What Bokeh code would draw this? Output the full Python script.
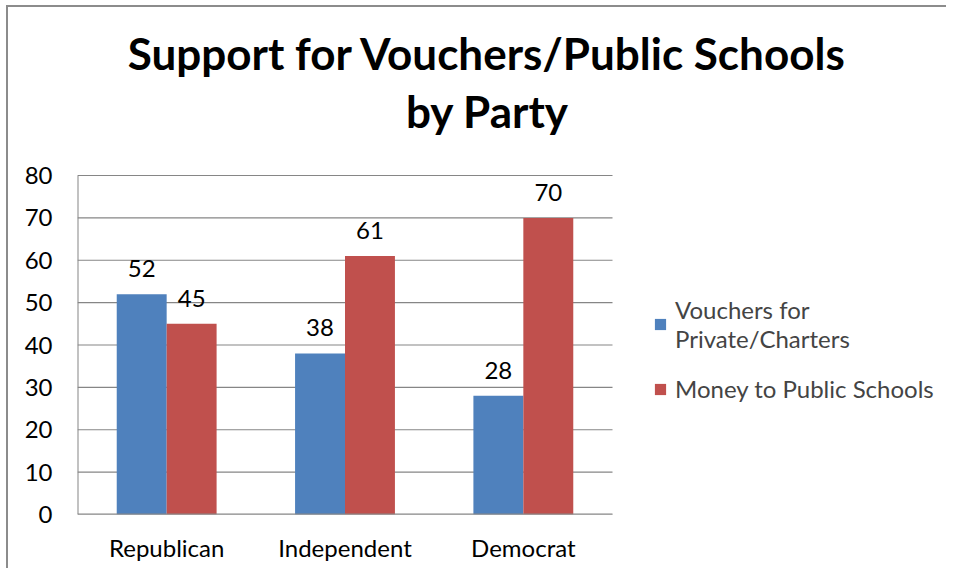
from bokeh.plotting import figure
from bokeh.models import (ColumnDataSource, Range1d, Legend, LegendItem, Label,
                          InlineStyleSheet, FixedTicker)
from bokeh.core.properties import value
from bokeh.embed import file_html
from bokeh.resources import INLINE

categories = ["Republican", "Independent", "Democrat"]
vouchers = [52, 38, 28]
public_money = [45, 61, 70]
series_names = ["Vouchers for\nPrivate/Charters", "Money to Public Schools"]
title_lines = ["Support for Vouchers/Public Schools", "by Party"]
y_ticks = [0, 10, 20, 30, 40, 50, 60, 70, 80]

BLUE = "#4F81BD"
RED = "#C0504D"
GRID = "#868686"
FONT = "Lato"

# layout geometry (pixels)
W, H = 940, 563
ML, MB = 69, 56
frame_w, frame_h = W - ML, H - MB
plot_w_px, plot_h_px = 535, 339   # width/height of the category plotting area

n = len(categories)
y_max = y_ticks[-1]
x_end = n * frame_w / plot_w_px
y_end = y_max * frame_h / plot_h_px

xc = [i + 0.5 for i in range(n)]
bw = 0.28
source = ColumnDataSource(data=dict(
    xv=[x - bw / 2 for x in xc], xm=[x + bw / 2 for x in xc],
    v=vouchers, m=public_money,
    vt=[str(x) for x in vouchers], mt=[str(x) for x in public_money],
))

p = figure(width=W, height=H, x_range=Range1d(0, x_end), y_range=Range1d(0, y_end),
           output_backend="svg", toolbar_location=None,
           min_border_left=ML, min_border_top=0, min_border_right=0, min_border_bottom=MB)
p.stylesheets = [InlineStyleSheet(css=":host { margin-left: 6px; margin-top: 5px; border-left: 2px solid #8c8c8c; border-top: 2px solid #8c8c8c; }")]
p.outline_line_color = None
p.xgrid.grid_line_color = None
p.ygrid.grid_line_color = None

# gridlines over the category area
p.segment(x0=[0] * len(y_ticks), y0=y_ticks, x1=[n] * len(y_ticks), y1=y_ticks,
          line_color=GRID, line_width=1.2)

r1 = p.vbar(x="xv", top="v", width=bw, source=source, fill_color=BLUE, line_color=None)
r2 = p.vbar(x="xm", top="m", width=bw, source=source, fill_color=RED, line_color=None)

# axis lines
p.segment(x0=[0, 0], y0=[0, 0], x1=[0, n], y1=[y_max, 0], line_color=GRID, line_width=2)

p.text(x="xv", y="v", text="vt", source=source, text_align="center", text_baseline="bottom",
       y_offset=-17, text_font=value(FONT), text_font_size="24px", text_color="black")
p.text(x="xm", y="m", text="mt", source=source, text_align="center", text_baseline="bottom",
       y_offset=-17, text_font=value(FONT), text_font_size="24px", text_color="black")

p.yaxis.ticker = FixedTicker(ticks=y_ticks)
p.xaxis.ticker = FixedTicker(ticks=xc)
p.xaxis.major_label_overrides = {x: c for x, c in zip(xc, categories)}
for ax in (p.xaxis[0], p.yaxis[0]):
    ax.axis_line_color = None
    ax.major_tick_line_color = None
    ax.minor_tick_line_color = None
    ax.major_tick_out = 0
    ax.major_tick_in = 0
    ax.minor_tick_out = 0
    ax.major_label_text_font = FONT
    ax.major_label_text_font_size = "24px"
    ax.major_label_text_color = "black"
p.yaxis.major_label_standoff = 25
p.xaxis.major_label_standoff = 18

p.add_layout(Label(x=410, y=462, x_units="screen", y_units="screen", text=title_lines[0],
                   text_align="center", text_baseline="alphabetic",
                   text_font=FONT, text_font_size="44px", text_font_style="bold",
                   text_color="black"))
p.add_layout(Label(x=410, y=404, x_units="screen", y_units="screen", text=title_lines[1],
                   text_align="center", text_baseline="alphabetic",
                   text_font=FONT, text_font_size="44px", text_font_style="bold",
                   text_color="black"))

legend = Legend(items=[LegendItem(label=series_names[0], renderers=[r1]),
                       LegendItem(label=series_names[1], renderers=[r2])],
                location=(576, 111), border_line_color=None, background_fill_alpha=0,
                padding=10, margin=0,
                glyph_width=14, glyph_height=14, label_text_font=FONT,
                label_text_font_size="24px", label_text_line_height=1.35,
                spacing=21, label_standoff=8)
p.add_layout(legend, "center")

open("out.html", "w").write(file_html(p, INLINE))
